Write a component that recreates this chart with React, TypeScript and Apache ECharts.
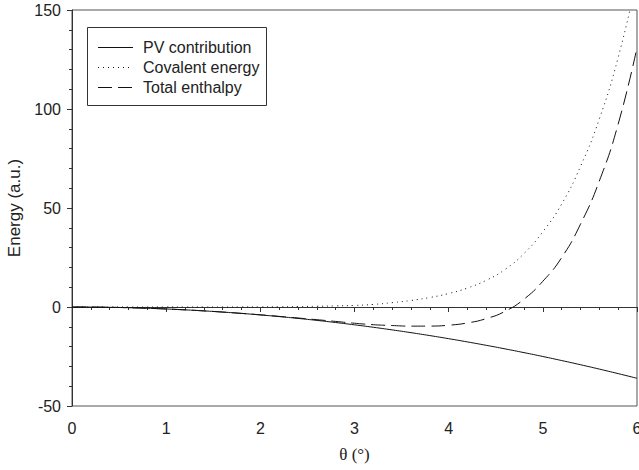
import React, { useEffect, useRef } from "react";
import * as echarts from "echarts";

const theta = [0, 0.2, 0.4, 0.6, 0.8, 1.0, 1.2, 1.4, 1.6, 1.8, 2.0, 2.2, 2.4, 2.6, 2.8, 3.0, 3.2, 3.4, 3.6, 3.8, 4.0, 4.2, 4.4, 4.6, 4.8, 5.0, 5.2, 5.4, 5.6, 5.8, 6.0];
const pvContribution = [0, -0.04, -0.16, -0.36, -0.64, -1, -1.44, -1.96, -2.56, -3.24, -4, -4.84, -5.76, -6.76, -7.84, -9, -10.24, -11.56, -12.96, -14.44, -16, -17.64, -19.36, -21.16, -23.04, -25, -27.04, -29.16, -31.36, -33.64, -36];
const covalentEnergy = [0, 0, 0, 0, 0, 0, 0, 0, 0, 0.02, 0.05, 0.1, 0.2, 0.35, 0.55, 0.8, 1.3, 2.2, 3.3, 4.8, 6.8, 9.6, 13.5, 19, 27, 38, 52, 71, 95, 126, 166];
const totalEnthalpy = [0, -0.04, -0.16, -0.36, -0.64, -1, -1.44, -1.96, -2.56, -3.22, -3.95, -4.74, -5.56, -6.41, -7.29, -8.2, -8.94, -9.36, -9.66, -9.64, -9.2, -8.04, -5.86, -2.16, 3.96, 13, 24.96, 41.84, 63.64, 92.36, 131];

const seriesNames = ["PV contribution", "Covalent energy", "Total enthalpy"];
const dashStyles: (number[] | null)[] = [null, [1, 4], [14, 6]];

export default function App() {
  const ref = useRef<HTMLDivElement>(null);
  useEffect(() => {
    const chart = echarts.init(ref.current!, null, { renderer: "svg" });
    const pair = (ys: number[]) => theta.map((t, i) => [t, ys[i]]);
    const font = "'Liberation Sans', Arial, sans-serif";
    const lineColor = "#111";

    const legendItems: any[] = [
      {
        type: "rect",
        shape: { x: 87.5, y: 27.5, width: 179, height: 78 },
        style: { fill: "#fff", stroke: "#333", lineWidth: 1 },
        z: 10,
      },
    ];
    seriesNames.forEach((name, i) => {
      const y = 47.5 + i * 20;
      legendItems.push({
        type: "line",
        shape: { x1: 98, y1: y, x2: 133, y2: y },
        style: { stroke: lineColor, lineWidth: 1, lineDash: dashStyles[i] || undefined },
        z: 11,
      });
      legendItems.push({
        type: "text",
        x: 143,
        y: y,
        style: { text: name, fontFamily: font, fontSize: 16, fill: "#222", verticalAlign: "middle", align: "left" },
        z: 11,
      });
    });

    const makeSeries = (i: number, ys: number[]) => ({
      name: seriesNames[i],
      type: "line",
      data: pair(ys),
      showSymbol: false,
      symbol: "none",
      smooth: true,
      clip: true,
      lineStyle: { color: lineColor, width: 1, type: dashStyles[i] || "solid" },
      itemStyle: { color: lineColor },
    });

    chart.setOption({
      animation: false,
      backgroundColor: "#fff",
      grid: {
        left: 72,
        right: 2,
        top: 10,
        bottom: 64,
        show: true,
        borderColor: "#555",
        borderWidth: 1,
        outerBoundsMode: "none",
        containLabel: false,
      },
      graphic: legendItems,
      xAxis: {
        type: "value",
        min: 0,
        max: 6,
        interval: 1,
        name: "θ (°)",
        nameLocation: "middle",
        nameGap: 40,
        nameTextStyle: { fontFamily: "'Liberation Serif', 'Times New Roman', serif", fontSize: 17, color: "#222" },
        axisLine: { lineStyle: { color: "#333", width: 1 } },
        axisTick: { show: true, inside: false, length: 5, lineStyle: { color: "#333" } },
        minorTick: { show: true, splitNumber: 5, length: 3, lineStyle: { color: "#333" } },
        axisLabel: { fontFamily: font, fontSize: 16, color: "#222", margin: 14 },
        splitLine: { show: false },
      },
      yAxis: {
        type: "value",
        min: -50,
        max: 150,
        interval: 50,
        name: "Energy (a.u.)",
        nameLocation: "middle",
        nameGap: 46,
        nameTextStyle: { fontFamily: font, fontSize: 17, color: "#222" },
        axisLine: { show: true, lineStyle: { color: "#333", width: 1 } },
        axisTick: { show: true, inside: false, length: 5, lineStyle: { color: "#333" } },
        minorTick: { show: true, splitNumber: 5, length: 3, lineStyle: { color: "#333" } },
        axisLabel: { fontFamily: font, fontSize: 16, color: "#222", margin: 11 },
        splitLine: { show: false },
      },
      series: [
        makeSeries(0, pvContribution),
        makeSeries(1, covalentEnergy),
        makeSeries(2, totalEnthalpy),
      ],
    });
    return () => chart.dispose();
  }, []);
  return <div ref={ref} style={{ position: "fixed", left: 0, top: 0, width: 639, height: 470 }} />;
}
